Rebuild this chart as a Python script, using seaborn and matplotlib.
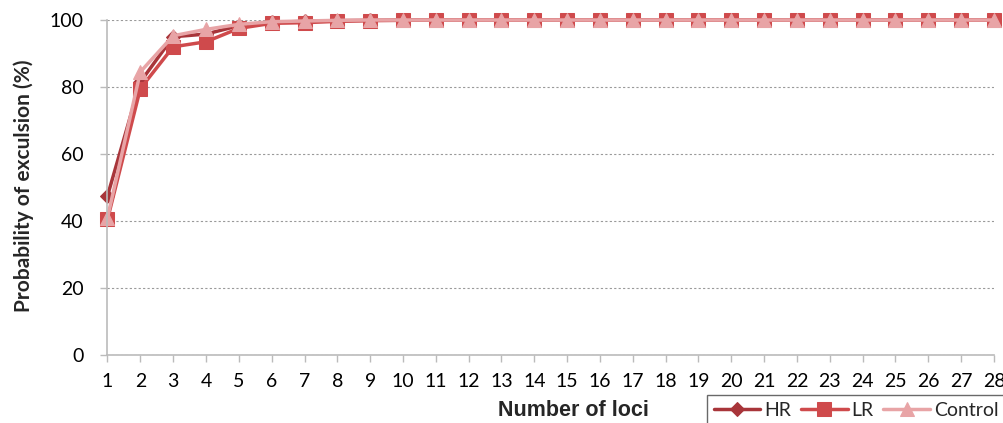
import matplotlib
matplotlib.use("Agg")
import matplotlib.pyplot as plt
import seaborn as sns
import pandas as pd

loci = list(range(1, 29))
hr = [47.5, 81.5, 95.0, 95.8, 98.3, 99.3, 99.6, 99.8, 99.9, 100, 100, 100, 100, 100,
      100, 100, 100, 100, 100, 100, 100, 100, 100, 100, 100, 100, 100, 100]
lr = [40.5, 79.5, 92.0, 93.5, 97.5, 99.0, 99.2, 99.6, 99.8, 99.9, 100, 100, 100, 100,
      100, 100, 100, 100, 100, 100, 100, 100, 100, 100, 100, 100, 100, 100]
control = [41.0, 84.5, 95.3, 97.2, 98.7, 99.5, 99.7, 99.9, 100, 100, 100, 100, 100, 100,
           100, 100, 100, 100, 100, 100, 100, 100, 100, 100, 100, 100, 100, 100]
series_names = ["HR", "LR", "Control"]
series_vals = [hr, lr, control]
colors = ["#A8353A", "#CF4A4C", "#E8A4A6"]
markers = ["D", "s", "^"]
msizes = [7.5, 10, 10]

sns.set_theme(style="white")
plt.rcParams["font.family"] = ["Lato", "DejaVu Sans"]

fig = plt.figure(figsize=(10.04, 4.23), dpi=100)
ax = fig.add_axes([107.5 / 1004, 1 - 355 / 423, (994 - 107.5) / 1004, (355 - 20) / 423])

for name, vals, c, m, ms in zip(series_names, series_vals, colors, markers, msizes):
    df = pd.DataFrame({"loci": loci, "val": vals})
    sns.lineplot(data=df, x="loci", y="val", ax=ax, color=c, marker=m, markersize=ms,
                 linewidth=2.5, markeredgecolor=c, label=name, legend=False, clip_on=False)

ax.set_xlim(1, 28)
ax.set_ylim(0, 100)
ax.set_xticks(loci)
ax.set_yticks([0, 20, 40, 60, 80, 100])
ax.tick_params(axis="both", labelsize=14, length=5, width=1, direction="out",
               bottom=True, left=True, color="#BBBBBB", labelcolor="black")
ax.tick_params(axis="y", pad=12)
ax.tick_params(axis="x", pad=8)
ax.yaxis.grid(True, linestyle=(0, (2, 2)), color="#9A9A9A", linewidth=0.8)
ax.xaxis.grid(False)
for s in ["top", "right"]:
    ax.spines[s].set_visible(False)
for s in ["left", "bottom"]:
    ax.spines[s].set_color("#BBBBBB")
    ax.spines[s].set_linewidth(1.2)
ax.set_xlabel("")
ax.set_ylabel("")
fig.text(24 / 1004, 1 - 186 / 423, "Probability of exculsion (%)", rotation=90,
         ha="center", va="center", fontsize=15, fontweight="bold")

fig.text(573 / 1004, 1 - 410 / 423, "Number of loci", ha="center", va="center",
         fontsize=15.5, fontweight="bold", family=["Liberation Sans", "DejaVu Sans"])

handles, labels = ax.get_legend_handles_labels()
leg = fig.legend(handles, labels, loc="upper left", bbox_to_anchor=(707 / 1004, 1 - 395 / 423),
                 ncol=3, frameon=True, fontsize=14, handlelength=2.4, columnspacing=0.5,
                 handletextpad=0.2, borderpad=0.35, fancybox=False, edgecolor="#444444",
                 borderaxespad=0)
leg.get_frame().set_linewidth(1.0)

fig.savefig("out.png", dpi=100)
